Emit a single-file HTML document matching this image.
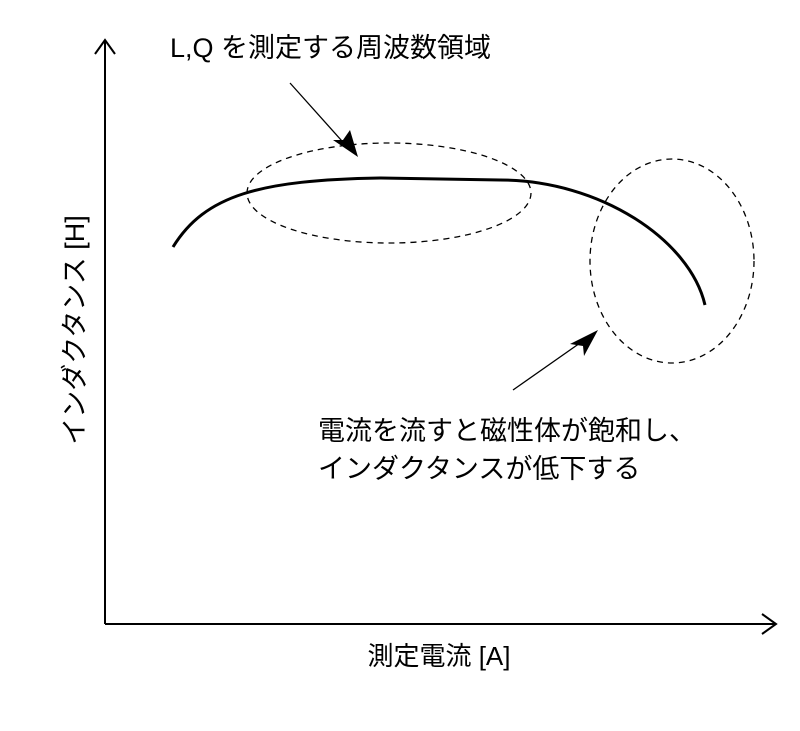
<!DOCTYPE html>
<html><head><meta charset="utf-8"><style>
body{margin:0;background:#fff;}
svg{display:block}
text{font-family:"Liberation Sans","Noto Sans CJK JP",sans-serif;fill:#000;font-size:26px}
</style></head><body>
<svg width="800" height="731" viewBox="0 0 800 731">
<g stroke="#000" fill="none" stroke-width="2">
<line x1="105" y1="40" x2="105" y2="624"/>
<line x1="105" y1="624" x2="776" y2="624"/>
<polyline points="95,54 105,40 115,54"/>
<polyline points="762,614 776,624 762,634"/>
</g>
<path d="M173,247 C205,195 260,180 380,178 L500,180 C600,180 690,240 705,305" stroke="#000" stroke-width="3" fill="none"/>
<g stroke="#000" stroke-width="1.3" fill="none" stroke-dasharray="6,5">
<ellipse cx="389" cy="193" rx="142" ry="50"/>
<ellipse cx="672" cy="261" rx="82" ry="102"/>
</g>
<g stroke="#000" stroke-width="1.3">
<line x1="290" y1="83" x2="350" y2="150"/>
<line x1="513" y1="390" x2="590" y2="336"/>
</g>
<polygon points="358,157 333,140 343,140 350,130" fill="#000"/>
<polygon points="598,330 584,356 583,346 570,344" fill="#000"/>
<text x="170" y="57" style="font-size:27px">L,Q を測定する周波数領域</text>
<text x="318" y="440" style="font-size:27px">電流を流すと磁性体が飽和し、</text>
<text x="318" y="478" style="font-size:27px">インダクタンスが低下する</text>
<text x="439" y="665" text-anchor="middle">測定電流 [A]</text>
<text transform="translate(84,330) rotate(-90)" text-anchor="middle" style="font-size:27px">インダクタンス [H]</text>
</svg>
</body></html>
